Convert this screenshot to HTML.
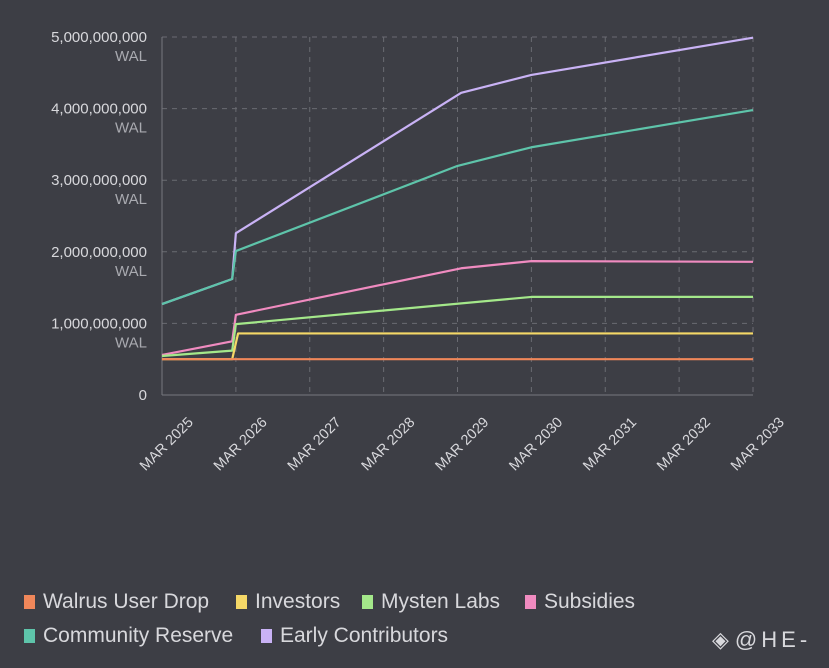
<!DOCTYPE html>
<html><head><meta charset="utf-8"><style>
body{margin:0;background:#3d3e45;font-family:"Liberation Sans",sans-serif;}
#wrap{position:relative;width:829px;height:668px;overflow:hidden;background:#3d3e45}
.leg{position:absolute;font-size:21px;color:#d8d8dc;display:flex;align-items:center;white-space:nowrap}
.sw{width:11px;height:14px;margin-right:8px;display:inline-block}
</style></head><body>
<div id="wrap">
<svg id="svg" width="829" height="668"></svg>
<div class="leg" style="left:24px;top:590px"><span class="sw" style="background:#f0875a"></span>Walrus User Drop</div>
<div class="leg" style="left:236px;top:590px"><span class="sw" style="background:#f5d867"></span>Investors</div>
<div class="leg" style="left:362px;top:590px"><span class="sw" style="background:#a4e88a"></span>Mysten Labs</div>
<div class="leg" style="left:525px;top:590px"><span class="sw" style="background:#f08bc0"></span>Subsidies</div>
<div class="leg" style="left:24px;top:624px"><span class="sw" style="background:#5ec4aa"></span>Community Reserve</div>
<div class="leg" style="left:261px;top:624px"><span class="sw" style="background:#c9b2f5"></span>Early Contributors</div>
<div class="leg" style="left:712px;top:627px;font-size:22px;letter-spacing:4px"><span style="font-size:22px;margin-right:2px">◈</span>@HE-</div>
</div>
<script>
const xTicks=["MAR 2025","MAR 2026","MAR 2027","MAR 2028","MAR 2029","MAR 2030","MAR 2031","MAR 2032","MAR 2033"];
const yTicks=[0,1e9,2e9,3e9,4e9,5e9];
const yTickLabels=["0","1,000,000,000","2,000,000,000","3,000,000,000","4,000,000,000","5,000,000,000"];
const names=["walrus-user-drop","investors","mysten-labs","subsidies","community-reserve","early-contributors"];
const colors=["#f0875a","#f5d867","#a4e88a","#f08bc0","#5ec4aa","#c9b2f5"];
const tWalrus=[0,8]; const vWalrus=[0.5e9,0.5e9];
const tInvestors=[0,0.95,1.03,8]; const vInvestors=[0.5e9,0.5e9,0.86e9,0.86e9];
const tMysten=[0,0.95,1.0,5,8]; const vMysten=[0.545e9,0.62e9,0.99e9,1.37e9,1.37e9];
const tSubsidies=[0,0.95,1.0,4.05,5,8]; const vSubsidies=[0.56e9,0.75e9,1.12e9,1.77e9,1.87e9,1.86e9];
const tCommunity=[0,0.95,1.0,4,5,8]; const vCommunity=[1.27e9,1.62e9,2.01e9,3.2e9,3.46e9,3.98e9];
const tEarly=[0,0.95,1.0,4.05,5,8]; const vEarly=[1.27e9,1.62e9,2.26e9,4.22e9,4.47e9,4.99e9];
const series=[[tWalrus,vWalrus],[tInvestors,vInvestors],[tMysten,vMysten],[tSubsidies,vSubsidies],[tCommunity,vCommunity],[tEarly,vEarly]];
const X0=162,X1=753,Y0=395,Y1=37;
const x=t=>X0+(X1-X0)*t/8;
const y=v=>Y0-(Y0-Y1)*v/5e9;
const svg=document.getElementById('svg');const NS="http://www.w3.org/2000/svg";
function mk(tag,attrs){const e=document.createElementNS(NS,tag);for(const k in attrs)e.setAttribute(k,attrs[k]);svg.appendChild(e);return e;}
xTicks.forEach((lab,i)=>{
 if(i>0){const l=mk('line',{x1:x(i),x2:x(i),y1:Y1,y2:Y0,stroke:'#6a6b72','stroke-dasharray':'5,5'});
 }
 const ax0=x(i)+32,ay0=Y0+28;
 const tx=mk('text',{x:ax0,y:ay0,fill:'#d8d8dc','font-size':'14.5','text-anchor':'end',transform:`rotate(-45 ${ax0} ${ay0})`,'font-family':'Liberation Sans, sans-serif'});
 tx.textContent=lab;
 
});
yTicks.forEach((v,i)=>{
 if(i>0){const l=mk('line',{x1:X0,x2:X1,y1:y(v),y2:y(v),stroke:'#6a6b72','stroke-dasharray':'5,5'});
 }
 const tx=mk('text',{x:147,y:y(v)+5,fill:'#d8d8dc','font-size':'15','text-anchor':'end','font-family':'Liberation Sans, sans-serif'});
 tx.textContent=yTickLabels[i];
 
 if(i>0){const w=mk('text',{x:147,y:y(v)+24,fill:'#a9aab0','font-size':'15','text-anchor':'end','font-family':'Liberation Sans, sans-serif'});
 w.textContent="WAL";
 }
});
const ax=mk('line',{x1:X0,x2:X0,y1:Y1,y2:Y0,stroke:'#77787e'});

const bx=mk('line',{x1:X0,x2:X1,y1:Y0,y2:Y0,stroke:'#77787e'});

for(let s=series.length-1;s>=0;s--){
 const [ts,vs]=series[s];
 const p=mk('polyline',{points:ts.map((t,i)=>x(t)+','+y(vs[i])).join(' '),fill:'none',stroke:colors[s],'stroke-width':'2.2','stroke-linejoin':'round'});
 
}
</script>
</body></html>
